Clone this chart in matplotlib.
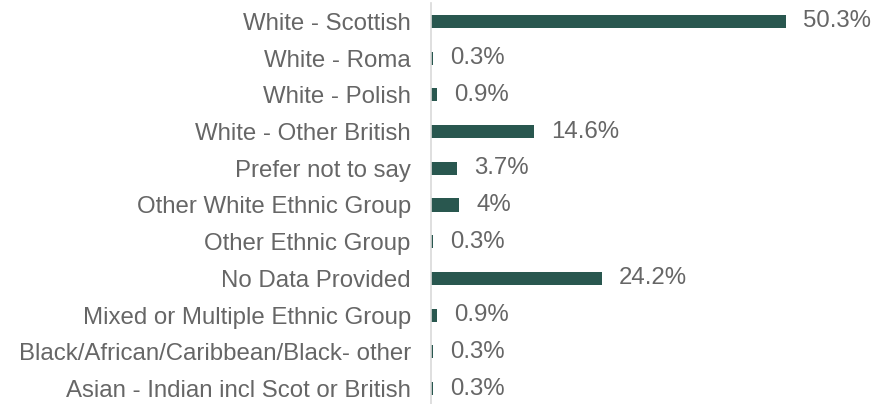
import matplotlib
matplotlib.use("Agg")
import matplotlib.pyplot as plt

categories = [
    "White - Scottish",
    "White - Roma",
    "White - Polish",
    "White - Other British",
    "Prefer not to say",
    "Other White Ethnic Group",
    "Other Ethnic Group",
    "No Data Provided",
    "Mixed or Multiple Ethnic Group",
    "Black/African/Caribbean/Black- other",
    "Asian - Indian incl Scot or British",
]
values = [50.3, 0.3, 0.9, 14.6, 3.7, 4, 0.3, 24.2, 0.9, 0.3, 0.3]
value_labels = ["50.3%", "0.3%", "0.9%", "14.6%", "3.7%", "4%", "0.3%",
                "24.2%", "0.9%", "0.3%", "0.3%"]

plt.rcParams["font.family"] = ["Liberation Sans", "DejaVu Sans"]

bar_color = "#29574f"
text_color = "#666666"
font_size = 17.3

W, H = 892, 404
fig = plt.figure(figsize=(W / 100, H / 100), dpi=100)
ax_left = 431
ax_top = 3
ax_bottom = 407
ax = fig.add_axes([ax_left / W, 1 - ax_bottom / H,
                   1 - ax_left / W, (ax_bottom - ax_top) / H])

y = list(range(len(categories)))
ax.barh(y, values, height=0.354, color=bar_color)
ax.set_ylim(len(categories) - 0.5, -0.5)
ax.set_xlim(0, 65.35)

ax.set_yticks(y)
ax.set_yticklabels(categories, fontsize=font_size, color=text_color)
ax.tick_params(axis="y", length=0, pad=14.5)
ax.set_xticks([])

for yi, v, lab in zip(y, values, value_labels):
    ax.annotate(lab, (v, yi), xytext=(12.2, 0), textcoords="offset points",
                va="center", ha="left", fontsize=font_size, color=text_color,
                annotation_clip=False)

for side in ["top", "right", "bottom"]:
    ax.spines[side].set_visible(False)
ax.spines["left"].set_color("#d9d9d9")
ax.spines["left"].set_linewidth(1.2)

fig.savefig("out.png", dpi=100)
